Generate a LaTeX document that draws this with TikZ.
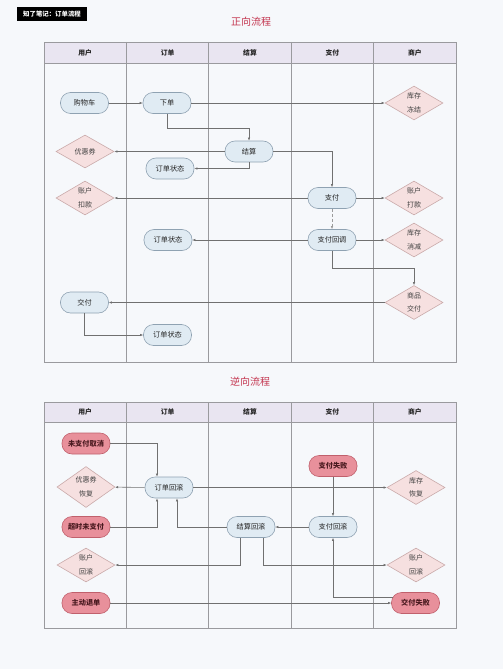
\documentclass[tikz,border=0pt]{standalone}
\usepackage{fontspec}
\setmainfont{Noto Sans CJK SC}
\usetikzlibrary{shapes.geometric,arrows.meta}
\definecolor{bgc}{HTML}{F6F8FB}
\definecolor{gridc}{HTML}{9A9A9E}
\definecolor{headc}{HTML}{E9E5F1}
\definecolor{boxf}{HTML}{E0EBF3}
\definecolor{boxd}{HTML}{8FA2B2}
\definecolor{diaf}{HTML}{F6E0E0}
\definecolor{diad}{HTML}{C9AAAA}
\definecolor{redf}{HTML}{E8909B}
\definecolor{redd}{HTML}{C0606C}
\definecolor{redt}{HTML}{4A1A20}
\definecolor{titc}{HTML}{C3344E}
\definecolor{linec}{HTML}{707070}
\tikzset{
  grid/.style={draw=gridc, line width=0.7pt},
  rbox/.style={draw=boxd, fill=boxf, rounded corners=10pt, minimum width=48pt, minimum height=21pt, inner sep=1pt, font=\fontsize{7.2}{8}\selectfont, text=black!85, line width=0.6pt},
  redbox/.style={rbox, draw=redd, fill=redf, text=redt, font=\fontsize{7.2}{8}\selectfont\bfseries},
  dia/.style={diamond, draw=diad, fill=diaf, minimum width=58pt, minimum height=33pt, inner sep=0pt, align=center, font=\fontsize{7}{13.5}\selectfont, text=black!75, line width=0.6pt},
  hdr/.style={font=\fontsize{6.8}{8}\selectfont\bfseries, text=black!85},
  ttl/.style={font=\fontsize{10}{11}\selectfont, text=titc},
  arr/.style={draw=linec, line width=0.55pt, -{Latex[length=3pt,width=2.4pt]}},
}
\begin{document}
\begin{tikzpicture}[x=1pt,y=-1pt]
\fill[bgc] (0,0) rectangle (503,669);
\useasboundingbox (0,0) rectangle (503,669);
% label
\node[fill=black, text=white, font=\fontsize{6.4}{7}\selectfont\bfseries, minimum width=70pt, minimum height=14pt, inner sep=1pt] (lbl) at (52,14) {知了笔记：订单流程};
% ===== top table =====
\node[ttl] (t1) at (251,22) {正向流程};
\fill[headc] (44,42) rectangle (456,63);
\draw[grid] (44,42) rectangle (456,362);
\draw[grid] (44,63) -- (456,63);
\foreach \x in {126.4,208.8,291.2,373.6} \draw[grid] (\x,42) -- (\x,362);
\node[hdr] (h1) at (85.2,52.5) {用户};
\node[hdr] (h2) at (167.6,52.5) {订单};
\node[hdr] (h3) at (250,52.5) {结算};
\node[hdr] (h4) at (332.4,52.5) {支付};
\node[hdr] (h5) at (414.8,52.5) {商户};
% nodes
\node[rbox] (gwc) at (84.5,103) {购物车};
\node[rbox] (xd) at (167,103) {下单};
\node[dia] (kcdj) at (414,103) {库存\\冻结};
\node[rbox] (js) at (249,151.5) {结算};
\node[dia] (yhq) at (85,151.5) {优惠券};
\node[rbox] (dd1) at (170,168.5) {订单状态};
\node[rbox] (zf) at (332,198) {支付};
\node[dia] (zhkk) at (85,198) {账户\\扣款};
\node[dia] (zhdk) at (414,198) {账户\\打款};
\node[rbox] (zfhd) at (332,240) {支付回调};
\node[rbox] (dd2) at (168,240) {订单状态};
\node[dia] (kcxj) at (414,240) {库存\\消减};
\node[rbox] (jf) at (84.5,302.5) {交付};
\node[dia] (spjf) at (414,302.5) {商品\\交付};
\node[rbox] (dd3) at (167.5,335) {订单状态};
\coordinate (k1) at (249,128);
\coordinate (k2) at (332,268);
% connectors
\draw[arr] (gwc) -- (xd);
\draw[arr] (xd) -- (kcdj);
\draw[arr] (xd.south) |- (k1) -- (js.north);
\draw[arr] (js) -- (yhq);
\draw[arr] (js.south) |- (dd1.east);
\draw[arr] (js.east) -| (zf.north);
\draw[arr] (zf) -- (zhkk);
\draw[arr] (zf) -- (zhdk);
\draw[arr, densely dashed, draw=linec!70] (zf) -- (zfhd);
\draw[arr] (zfhd) -- (dd2);
\draw[arr] (zfhd) -- (kcxj);
\draw[arr] (zfhd.south) -- (k2) -| (spjf.north);
\draw[arr] (spjf) -- (jf);
\draw[arr] (jf.south) |- (dd3.west);
% ===== bottom table =====
\node[ttl] (t2) at (250,382) {逆向流程};
\fill[headc] (44,402) rectangle (456,422);
\draw[grid] (44,402) rectangle (456,628);
\draw[grid] (44,422) -- (456,422);
\foreach \x in {126.4,208.8,291.2,373.6} \draw[grid] (\x,402) -- (\x,628);
\node[hdr] (g1) at (85.2,412) {用户};
\node[hdr] (g2) at (167.6,412) {订单};
\node[hdr] (g3) at (250,412) {结算};
\node[hdr] (g4) at (332.4,412) {支付};
\node[hdr] (g5) at (414.8,412) {商户};
\node[redbox] (wzf) at (86,443.5) {未支付取消};
\node[redbox] (zfsb) at (333,466) {支付失败};
\node[dia] (yhqhf) at (86,487) {优惠券\\恢复};
\node[rbox] (ddhg) at (169,487.5) {订单回滚};
\node[dia] (kchf) at (416,487.5) {库存\\恢复};
\node[redbox] (csw) at (86,527) {超时未支付};
\node[rbox] (jshg) at (251,527) {结算回滚};
\node[rbox] (zfhg) at (333,527) {支付回滚};
\node[dia] (zhhg1) at (86,565) {账户\\回滚};
\node[dia] (zhhg2) at (416,565) {账户\\回滚};
\node[redbox] (zdtd) at (86,603) {主动退单};
\node[redbox] (jfsb) at (415.5,603) {交付失败};
\coordinate (k3) at (157,443.5);
\coordinate (k4) at (157,527);
\coordinate (k5) at (177,527);
\coordinate (k6) at (240,565);
\coordinate (k7) at (263,565);
\coordinate (k8) at (333,597);
\draw[arr] (wzf.east) -- (k3) -- (k3 |- ddhg.north);
\draw[arr] (ddhg) -- (yhqhf);
\draw[arr] (ddhg) -- (kchf);
\draw[arr] (csw.east) -- (k4) -- (k4 |- ddhg.south);
\draw[arr] (jshg.west) -- (k5) -- (k5 |- ddhg.south);
\draw[arr] (zfsb) -- (zfhg);
\draw[arr] (zfhg) -- (jshg);
\draw[arr] (k6 |- jshg.south) -- (k6) -- (zhhg1.east);
\draw[arr] (k7 |- jshg.south) -- (k7) -- (zhhg2.west);
\draw[arr] ([xshift=2pt]k8 -| jfsb.west) -- (k8) -- (zfhg.south);
\draw[arr] (zdtd) -- (jfsb);
\end{tikzpicture}
\end{document}
